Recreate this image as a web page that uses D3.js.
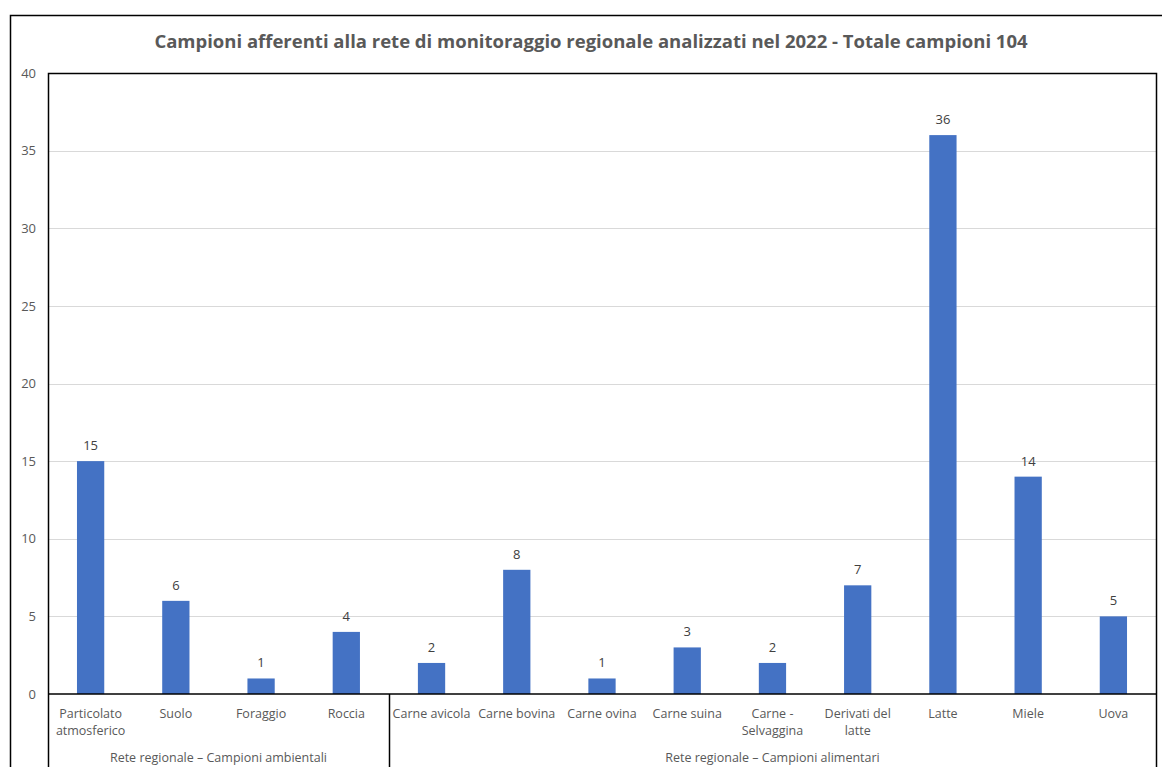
<!DOCTYPE html>
<html>
<head>
<meta charset="utf-8">
<script src="https://cdn.jsdelivr.net/npm/d3@7"></script>
<style>
  html, body { margin: 0; padding: 0; background: #fff; }
  svg { display: block; font-family: "Open Sans", "Liberation Sans", sans-serif; }
</style>
</head>
<body>
<svg id="chart" width="1162" height="767"></svg>
<script>
// Sample categories, counts and group membership
const categories = [
  "Particolato atmosferico", "Suolo", "Foraggio", "Roccia",
  "Carne avicola", "Carne bovina", "Carne ovina", "Carne suina",
  "Carne - Selvaggina", "Derivati del latte", "Latte", "Miele", "Uova"
];
const categoryLines = [
  ["Particolato", "atmosferico"], ["Suolo"], ["Foraggio"], ["Roccia"],
  ["Carne avicola"], ["Carne bovina"], ["Carne ovina"], ["Carne suina"],
  ["Carne -", "Selvaggina"], ["Derivati del", "latte"], ["Latte"], ["Miele"], ["Uova"]
];
const values = [15, 6, 1, 4, 2, 8, 1, 3, 2, 7, 36, 14, 5];
const groupNames = ["Rete regionale \u2013 Campioni ambientali", "Rete regionale \u2013 Campioni alimentari"];
const groupSizes = [4, 9];
const yTicks = [0, 5, 10, 15, 20, 25, 30, 35, 40];
const title = "Campioni afferenti alla rete di monitoraggio regionale analizzati nel 2022 - Totale campioni 104";

const svg = d3.select("#chart");
const W = 1162, H = 767;
const plot = { left: 48, top: 73, right: 1156, bottom: 694 };

// Outer chart frame
svg.append("rect")
  .attr("x", 10.5).attr("y", 15.5)
  .attr("width", W + 20).attr("height", H + 20)
  .attr("fill", "#fff").attr("stroke", "#000").attr("stroke-width", 1.5);

const x = d3.scaleBand()
  .domain(categories)
  .range([plot.left, plot.right])
  .paddingInner(0.68).paddingOuter(0.34);

const y = d3.scaleLinear().domain([0, 40]).range([plot.bottom, plot.top]);

// Horizontal gridlines
svg.append("g")
  .selectAll("line")
  .data(yTicks.filter(t => t > 0 && t < 40))
  .join("line")
  .attr("x1", plot.left).attr("x2", plot.right)
  .attr("y1", d => Math.round(y(d)) + 0.5).attr("y2", d => Math.round(y(d)) + 0.5)
  .attr("stroke", "#d9d9d9").attr("stroke-width", 1);

// Y axis labels
const yAxis = d3.axisLeft(y).tickValues(yTicks).tickSize(0).tickPadding(12);
const yg = svg.append("g").attr("transform", `translate(${plot.left},0)`).call(yAxis);
yg.select(".domain").remove();
yg.selectAll("text")
  .attr("fill", "#595959")
  .style("font-size", "13px")
  .style("font-family", "'Open Sans', sans-serif");

// Bars
svg.append("g")
  .selectAll("rect")
  .data(values)
  .join("rect")
  .attr("x", (d, i) => x(categories[i]))
  .attr("y", d => y(d))
  .attr("width", x.bandwidth())
  .attr("height", d => y(0) - y(d))
  .attr("fill", "#4472c4");

// Value labels
svg.append("g")
  .selectAll("text")
  .data(values)
  .join("text")
  .attr("x", (d, i) => x(categories[i]) + x.bandwidth() / 2)
  .attr("y", d => y(d) - 11)
  .attr("text-anchor", "middle")
  .attr("fill", "#404040")
  .style("font-size", "13px")
  .text(d => d);

// Plot border (left, top, right) and zero baseline
svg.append("path")
  .attr("d", `M${plot.left + 0.5},${plot.bottom} V${plot.top + 0.5} H${plot.right + 0.5} V${plot.bottom}`)
  .attr("fill", "none").attr("stroke", "#000").attr("stroke-width", 1.5);
svg.append("line")
  .attr("x1", plot.left).attr("x2", plot.right + 1)
  .attr("y1", y(0)).attr("y2", y(0))
  .attr("stroke", "#000").attr("stroke-width", 1.5);

// Category labels
const step = x.step();
const catG = svg.append("g");
categories.forEach((c, i) => {
  const cx = x(c) + x.bandwidth() / 2;
  const t = catG.append("text")
    .attr("x", cx).attr("y", 718)
    .attr("text-anchor", "middle")
    .attr("fill", "#595959")
    .style("font-size", "12.5px");
  categoryLines[i].forEach((line, j) => {
    t.append("tspan").attr("x", cx).attr("dy", j === 0 ? 0 : 17).text(line);
  });
});

// Group separators and group labels
let start = 0;
const boundaries = [plot.left];
groupSizes.forEach(n => {
  start += n;
  boundaries.push(plot.left + start * step);
});
svg.append("g")
  .selectAll("line")
  .data(boundaries)
  .join("line")
  .attr("x1", d => Math.round(d) + 0.5).attr("x2", d => Math.round(d) + 0.5)
  .attr("y1", plot.bottom).attr("y2", H)
  .attr("stroke", "#000").attr("stroke-width", 1.5);

svg.append("g")
  .selectAll("text")
  .data(groupNames)
  .join("text")
  .attr("x", (d, i) => (boundaries[i] + boundaries[i + 1]) / 2)
  .attr("y", 762)
  .attr("text-anchor", "middle")
  .attr("fill", "#595959")
  .style("font-size", "12.5px")
  .text(d => d);

// Title
svg.append("text")
  .attr("x", 591).attr("y", 48)
  .attr("text-anchor", "middle")
  .attr("fill", "#595959")
  .style("font-size", "18.5px")
  .style("font-weight", "bold")
  .text(title);
</script>
</body>
</html>
